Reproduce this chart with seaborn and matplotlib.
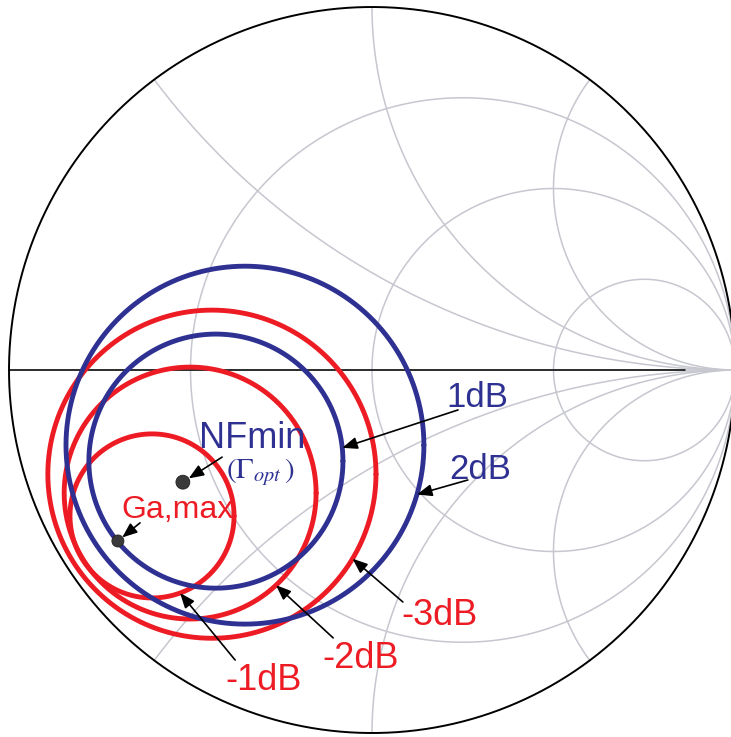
import numpy as np
import pandas as pd
import seaborn as sns
import matplotlib.pyplot as plt

# ---- contour data (reflection-coefficient plane, unit circle = |Γ| = 1) ----
nf_labels = ["1dB", "2dB"]
nf_center_u = [-0.430, -0.350]
nf_center_v = [-0.251, -0.207]
nf_radius = [0.350, 0.493]

gain_labels = ["-1dB", "-2dB", "-3dB"]
gain_center_u = [-0.606, -0.501, -0.441]
gain_center_v = [-0.402, -0.339, -0.287]
gain_radius = [0.226, 0.347, 0.452]

gamma_opt = [-0.521, -0.309]   # NFmin point
ga_max = [-0.700, -0.471]      # maximum available gain point

# Smith chart grid values
resistances = [1 / 3, 1, 3]
reactances = [0.5, 1, 2, -0.5, -1, -2]

BLUE = "#2E3192"
RED = "#ED1C24"
GRID = "#C6C7CF"

sns.set_theme(style="white")
plt.rcParams["font.family"] = ["Liberation Sans", "DejaVu Sans"]
plt.rcParams["mathtext.fontset"] = "stix"

fig = plt.figure(figsize=(7.31, 7.37), dpi=100)
ax = fig.add_axes([0, 0, 1, 1])
ax.set_xlim(-1.0248, 0.989)
ax.set_ylim(-1.011, 1.0193)
ax.set_axis_off()

# ---- Smith chart grid ----
t = np.linspace(0, 2 * np.pi, 721)
for r in resistances:
    c, rad = r / (1 + r), 1 / (1 + r)
    ax.plot(c + rad * np.cos(t), rad * np.sin(t), color=GRID, lw=1.1, zorder=1)

rr = np.tan(np.linspace(0, np.pi / 2 - 1e-4, 800))
for x in reactances:
    z = rr + 1j * x
    g = (z - 1) / (z + 1)
    ax.plot(g.real, g.imag, color=GRID, lw=1.1, zorder=1)

ax.plot([-1, 1], [0, 0], color=GRID, lw=1.1, zorder=1)
ax.plot([-1, 0.862], [0, 0], color="black", lw=1.1, zorder=2)
ax.plot(np.cos(t), np.sin(t), color="black", lw=1.4, zorder=2)

# ---- gain and noise circles ----
def circle_frame(labels, cu, cv, rad, kind):
    rows = []
    for lab, u0, v0, r0 in zip(labels, cu, cv, rad):
        rows.append(pd.DataFrame({
            "u": u0 + r0 * np.cos(t),
            "v": v0 + r0 * np.sin(t),
            "contour": f"{kind} {lab}",
        }))
    return pd.concat(rows, ignore_index=True)

gain_df = circle_frame(gain_labels, gain_center_u, gain_center_v, gain_radius, "Ga")
nf_df = circle_frame(nf_labels, nf_center_u, nf_center_v, nf_radius, "NF")

sns.lineplot(data=gain_df, x="u", y="v", hue="contour",
             palette={k: RED for k in gain_df["contour"].unique()},
             sort=False, estimator=None, legend=False, lw=3.5, ax=ax, zorder=3)
sns.lineplot(data=nf_df, x="u", y="v", hue="contour",
             palette={k: BLUE for k in nf_df["contour"].unique()},
             sort=False, estimator=None, legend=False, lw=3.5, ax=ax, zorder=4)

pts = pd.DataFrame({"u": [gamma_opt[0], ga_max[0]],
                    "v": [gamma_opt[1], ga_max[1]],
                    "name": ["NFmin", "Ga,max"]})
sns.scatterplot(data=pts, x="u", y="v", size="name", sizes={"NFmin": 100, "Ga,max": 75},
                color="#3a3a3a", edgecolor="#222222", linewidth=0.6,
                legend=False, ax=ax, zorder=6)
ax.set_xlabel("")
ax.set_ylabel("")

# ---- labels with arrows ----
arrow_kw = dict(arrowstyle="-|>,head_length=0.75,head_width=0.3",
                color="black", lw=1.2, mutation_scale=12, shrinkA=0, shrinkB=0)

def on_circle(u0, v0, r0, ang_deg):
    a = np.deg2rad(ang_deg)
    return (u0 + r0 * np.cos(a), v0 + r0 * np.sin(a))

# noise-figure circle labels
nf_angles = [6, -16]
nf_text_pos = [(0.289, -0.102), (0.298, -0.300)]
nf_tails = [(0.237, -0.110), (0.264, -0.303)]
for i, lab in enumerate(nf_labels):
    tip = on_circle(nf_center_u[i], nf_center_v[i], nf_radius[i], nf_angles[i])
    ax.annotate("", xy=tip, xytext=nf_tails[i], arrowprops=arrow_kw, zorder=7)
    ax.text(*nf_text_pos[i], lab, color=BLUE, fontsize=25, ha="center",
            va="baseline", zorder=8)

# gain circle labels
gain_angles = [-70, -47, -31]
gain_text_pos = [(-0.298, -0.882), (-0.030, -0.821), (0.187, -0.702)]
gain_tails = [(-0.377, -0.799), (-0.107, -0.738), (0.085, -0.639)]
for i, lab in enumerate(gain_labels):
    tip = on_circle(gain_center_u[i], gain_center_v[i], gain_radius[i], gain_angles[i])
    ax.annotate("", xy=tip, xytext=gain_tails[i], arrowprops=arrow_kw, zorder=7)
    ax.text(*gain_text_pos[i], lab, color=RED, fontsize=26, ha="center",
            va="baseline", zorder=8)

# point labels
ax.annotate("", xy=tuple(gamma_opt), xytext=(-0.413, -0.240),
            arrowprops=dict(arrow_kw, shrinkB=5), zorder=7)
ax.text(-0.331, -0.215, "NFmin", color=BLUE, fontsize=26, ha="center",
        va="baseline", zorder=8)
ax.text(-0.309, -0.298, r"$(\Gamma_{opt}\,)$", color=BLUE, fontsize=21,
        ha="center", va="baseline", zorder=8)

ax.annotate("", xy=tuple(ga_max), xytext=(-0.639, -0.421),
            arrowprops=dict(arrow_kw, shrinkB=4), zorder=7)
ax.text(-0.537, -0.408, "Ga,max", color=RED, fontsize=23, ha="center",
        va="baseline", zorder=8)

fig.savefig("out.png", dpi=100, facecolor="white")
